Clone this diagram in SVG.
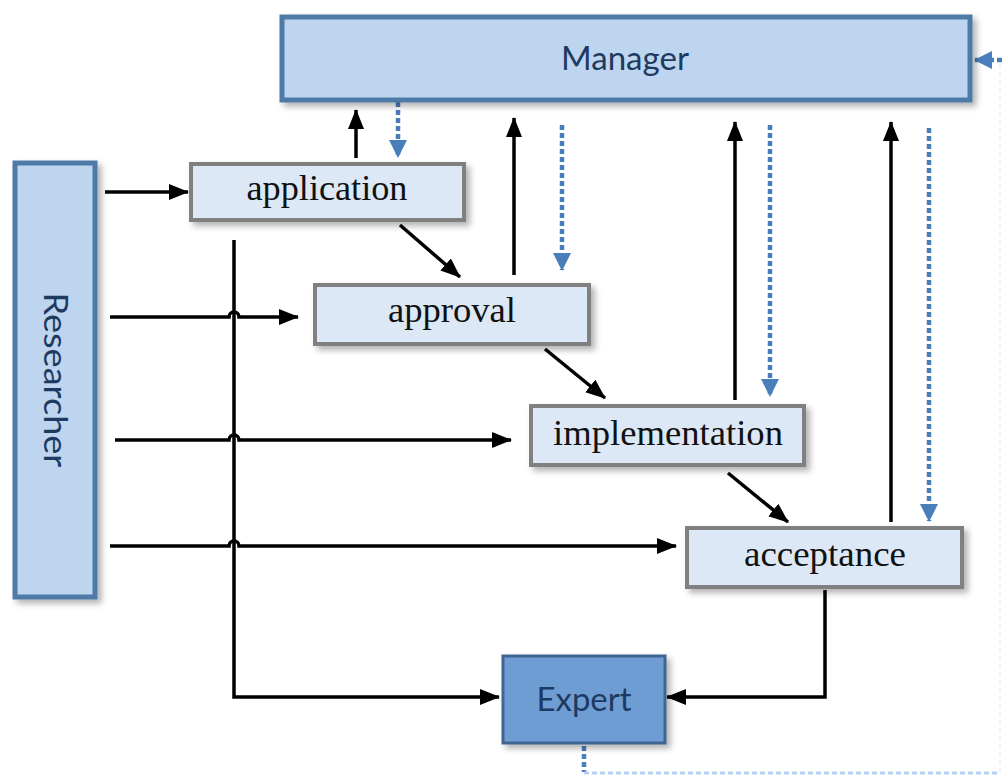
<svg xmlns="http://www.w3.org/2000/svg" width="1002" height="778" viewBox="0 0 1002 778">
<defs>
<filter id="sh" x="-10%" y="-20%" width="130%" height="150%">
<feDropShadow dx="4" dy="4" stdDeviation="3" flood-color="#000" flood-opacity="0.3"/>
</filter>
<marker id="ab" markerUnits="userSpaceOnUse" markerWidth="20" markerHeight="18" viewBox="0 0 20 18" refX="19" refY="9" orient="auto">
<path d="M0,1 L20,9 L0,17 Z" fill="#000"/>
</marker>
<marker id="au" markerUnits="userSpaceOnUse" markerWidth="18" markerHeight="20" viewBox="0 0 18 20" refX="17" refY="10" orient="auto">
<path d="M0,1 L18,10 L0,19 Z" fill="#4a7ebb"/>
</marker>
</defs>
<style>
.mgr{fill:#bdd5ee;stroke:#4e7aa6;stroke-width:5}
.step{fill:#dce8f5;stroke:#808080;stroke-width:4}
.exp{fill:#6e9dd3;stroke:#3f6590;stroke-width:3}
.sans{font-family:Lato,"Open Sans","Liberation Sans",sans-serif;fill:#1f3a60;font-size:33px}
.serif{font-family:"Liberation Serif","Times New Roman",serif;fill:#111;font-size:36px}
.ln{fill:none;stroke:#000;stroke-width:3.5}
.dl{fill:none;stroke:#4a7ebb;stroke-width:4.5;stroke-dasharray:5 3}
</style>
<g id="connectors">
<path class="ln" d="M105,192 H188" marker-end="url(#ab)"/>
<path class="ln" d="M110,317 H229 A5,5 0 0 1 239,317 H298" marker-end="url(#ab)"/>
<path class="ln" d="M115,440 H229 A5,5 0 0 1 239,440 H511" marker-end="url(#ab)"/>
<path class="ln" d="M110,546 H229 A5,5 0 0 1 239,546 H676" marker-end="url(#ab)"/>
<path class="ln" d="M234,240 V697 H499" marker-end="url(#ab)"/>
<path class="ln" d="M825,590 V697 H667" marker-end="url(#ab)"/>
<path class="ln" d="M356,158 V110" marker-end="url(#ab)"/>
<path class="ln" d="M514,275 V118" marker-end="url(#ab)"/>
<path class="ln" d="M735,400 V122" marker-end="url(#ab)"/>
<path class="ln" d="M891,522 V122" marker-end="url(#ab)"/>
<path class="ln" d="M400,225 L460,277" marker-end="url(#ab)"/>
<path class="ln" d="M545,349 L605,398" marker-end="url(#ab)"/>
<path class="ln" d="M728,473 L788,522" marker-end="url(#ab)"/>
<path class="dl" d="M398,102 V157" marker-end="url(#au)"/>
<path class="dl" d="M562,125 V270" marker-end="url(#au)"/>
<path class="dl" d="M770,125 V396" marker-end="url(#au)"/>
<path class="dl" d="M929,128 V521" marker-end="url(#au)"/>
<path class="dl" d="M584,746 V772"/>
<path class="dl" d="M584,773 H1000" style="stroke:#b3d0ee;stroke-width:3"/>
<path class="dl" d="M1000,773 V60" style="stroke:#f0f5fb;stroke-width:2"/>
<path class="dl" d="M1002,60 H975" marker-end="url(#au)"/>
</g>
<g id="manager">
<rect class="mgr" x="282" y="17" width="688" height="83" filter="url(#sh)"/>
<text class="sans" x="625" y="70" text-anchor="middle" textLength="128" lengthAdjust="spacingAndGlyphs">Manager</text>
</g>
<g id="researcher">
<rect class="mgr" x="15" y="163" width="80" height="434" filter="url(#sh)"/>
<text class="sans" transform="translate(44,380) rotate(90)" text-anchor="middle" textLength="175" lengthAdjust="spacingAndGlyphs">Researcher</text>
</g>
<g id="application">
<rect class="step" x="191" y="164" width="273" height="56" filter="url(#sh)"/>
<text class="serif" x="327" y="200" text-anchor="middle" textLength="161" lengthAdjust="spacingAndGlyphs">application</text>
</g>
<g id="approval">
<rect class="step" x="315" y="285" width="274" height="59" filter="url(#sh)"/>
<text class="serif" x="452" y="322" text-anchor="middle" textLength="128" lengthAdjust="spacingAndGlyphs">approval</text>
</g>
<g id="implementation">
<rect class="step" x="531" y="406" width="273" height="59" filter="url(#sh)"/>
<text class="serif" x="668" y="445" text-anchor="middle" textLength="230" lengthAdjust="spacingAndGlyphs">implementation</text>
</g>
<g id="acceptance">
<rect class="step" x="687" y="528" width="275" height="59" filter="url(#sh)"/>
<text class="serif" x="825" y="566" text-anchor="middle" textLength="162" lengthAdjust="spacingAndGlyphs">acceptance</text>
</g>
<g id="expert">
<rect class="exp" x="503" y="656" width="162" height="87" filter="url(#sh)"/>
<text class="sans" x="584" y="711" text-anchor="middle" textLength="95" lengthAdjust="spacingAndGlyphs">Expert</text>
</g>
</svg>
